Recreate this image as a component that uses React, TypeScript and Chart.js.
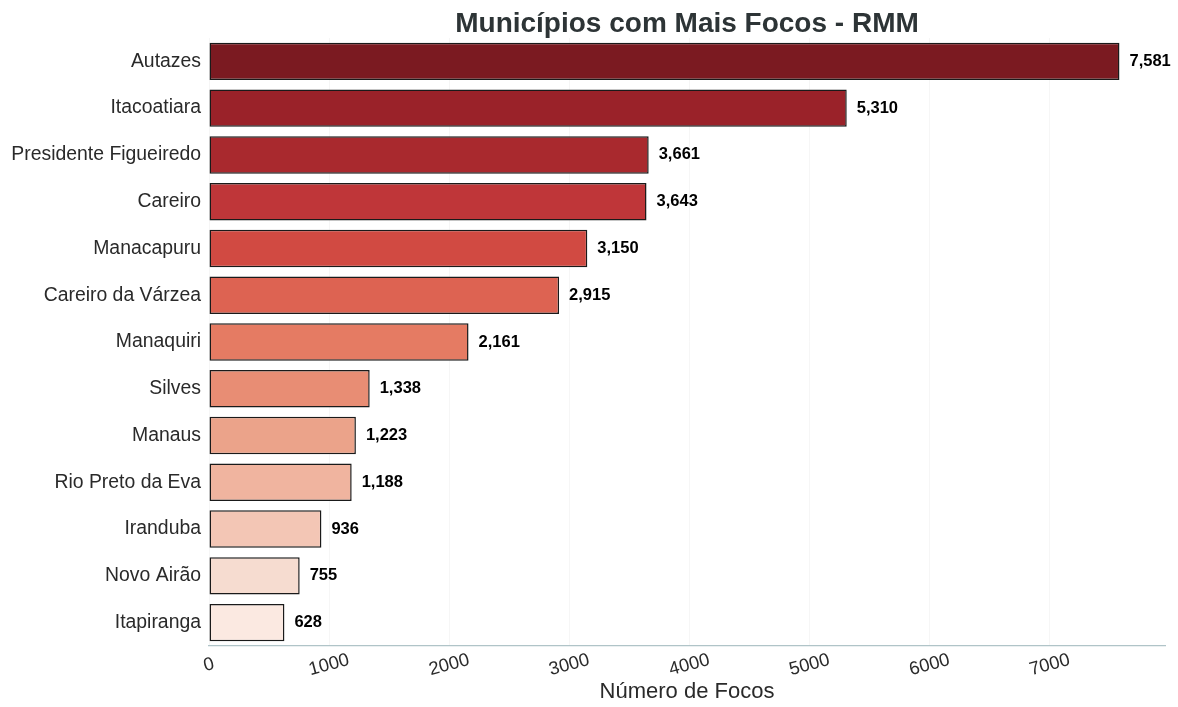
import React, { useEffect, useRef } from "react";
import { Chart, registerables } from "chart.js";

Chart.register(...registerables);

const municipios = [
  "Autazes",
  "Itacoatiara",
  "Presidente Figueiredo",
  "Careiro",
  "Manacapuru",
  "Careiro da Várzea",
  "Manaquiri",
  "Silves",
  "Manaus",
  "Rio Preto da Eva",
  "Iranduba",
  "Novo Airão",
  "Itapiranga",
];

const focos = [7581, 5310, 3661, 3643, 3150, 2915, 2161, 1338, 1223, 1188, 936, 755, 628];

const barColors = [
  "#7b1a21",
  "#9a2229",
  "#a9292e",
  "#bf3639",
  "#d14a42",
  "#dd6352",
  "#e57b63",
  "#e88d74",
  "#eba38a",
  "#f0b49f",
  "#f3c6b5",
  "#f6dcd0",
  "#fbe9e1",
];

const xTicks = [0, 1000, 2000, 3000, 4000, 5000, 6000, 7000];
const xMax = 7960;

const titleText = "Municípios com Mais Focos - RMM";
const xAxisTitle = "Número de Focos";

const FONT = "'Liberation Sans', Arial, sans-serif";

export default function App() {
  const canvasRef = useRef<HTMLCanvasElement | null>(null);

  useEffect(() => {
    document.body.style.margin = "0";
    const canvas = canvasRef.current;
    if (!canvas) return;

    const overlay = {
      id: "overlay",
      afterDraw(chart: any) {
        const ctx = chart.ctx;
        const area = chart.chartArea;
        const xs = chart.scales.x;
        const meta = chart.getDatasetMeta(0);
        ctx.save();
        // title
        ctx.fillStyle = "#2d3436";
        ctx.font = `bold 28px ${FONT}`;
        ctx.textAlign = "center";
        ctx.textBaseline = "alphabetic";
        ctx.fillText(titleText, (area.left + area.right) / 2, 32);

        // value labels
        ctx.fillStyle = "#000000";
        ctx.font = `bold 16.5px ${FONT}`;
        ctx.textAlign = "left";
        ctx.textBaseline = "middle";
        meta.data.forEach((bar: any, i: number) => {
          ctx.fillText(focos[i].toLocaleString("en-US"), bar.x + 10, bar.y);
        });

        // x tick labels
        ctx.fillStyle = "#2a2a2a";
        ctx.font = `18.5px ${FONT}`;
        ctx.textAlign = "center";
        ctx.textBaseline = "middle";
        xTicks.forEach((v) => {
          const px = xs.getPixelForValue(v);
          ctx.save();
          ctx.translate(px, area.bottom + 19);
          ctx.rotate((-15 * Math.PI) / 180);
          ctx.fillText(String(v), 0, 0);
          ctx.restore();
        });

        // x axis title
        ctx.fillStyle = "#2a2a2a";
        ctx.font = `22px ${FONT}`;
        ctx.textAlign = "center";
        ctx.textBaseline = "middle";
        ctx.fillText(xAxisTitle, (area.left + area.right) / 2, area.bottom + 46);
        ctx.restore();
      },
    };

    const chart = new Chart(canvas, {
      type: "bar",
      data: {
        labels: municipios,
        datasets: [
          {
            data: focos,
            backgroundColor: barColors,
            borderColor: "#1a1a1a",
            borderWidth: 1.5,
            borderSkipped: false,
            barPercentage: 0.8,
            categoryPercentage: 1,
          },
        ],
      },
      options: {
        indexAxis: "y",
        animation: false,
        responsive: false,
        maintainAspectRatio: false,
        layout: { padding: { top: 38, right: 13, bottom: 0, left: 0 } },
        plugins: {
          legend: { display: false },
          title: { display: false },
          tooltip: { enabled: false },
        },
        scales: {
          x: {
            type: "linear",
            min: 0,
            max: xMax,
            afterBuildTicks: (scale: any) => {
              scale.ticks = xTicks.map((v) => ({ value: v }));
            },
            afterFit: (scale: any) => {
              scale.height = 61;
            },
            ticks: { display: false },
            grid: {
              display: true,
              color: "rgba(0,0,0,0.035)",
              drawTicks: false,
            },
            border: { display: true, color: "#b0c4c8", width: 1.2 },
          },
          y: {
            afterFit: (scale: any) => {
              scale.width = 209;
            },
            ticks: {
              color: "#2a2a2a",
              font: { family: FONT, size: 19.4 },
              padding: 8,
              autoSkip: false,
            },
            grid: { display: false, drawTicks: false },
            border: { display: false },
          },
        },
      },
      plugins: [overlay],
    });

    return () => chart.destroy();
  }, []);

  return (
    <div style={{ width: 1178, height: 707, background: "#ffffff" }}>
      <canvas ref={canvasRef} width={1178} height={707} style={{ display: "block" }} />
    </div>
  );
}
